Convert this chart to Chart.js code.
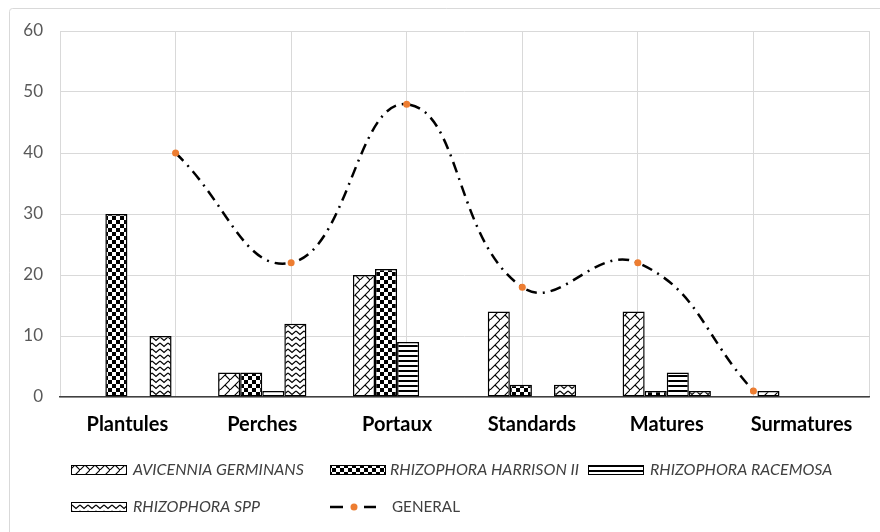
<!DOCTYPE html>
<html>
<head>
<meta charset="utf-8">
<script src="https://cdn.jsdelivr.net/npm/chart.js@4/dist/chart.umd.min.js"></script>
<style>
html,body{margin:0;padding:0;background:#fff;}
#wrap{width:880px;height:532px;position:relative;}
</style>
</head>
<body>
<div id="wrap"><canvas id="c" width="880" height="532"></canvas></div>
<script>
// ---- data ----
const categories = ['Plantules', 'Perches', 'Portaux', 'Standards', 'Matures', 'Surmatures'];
const avicenniaGerminans = [0, 4, 20, 14, 14, 1];
const rhizophoraHarrisonii = [30, 4, 21, 2, 1, 0];
const rhizophoraRacemosa = [0, 1, 9, 0, 4, 0];
const rhizophoraSpp = [10, 12, 0, 2, 1, 0];
const general = [40, 22, 48, 18, 22, 1];
const yTicks = [0, 10, 20, 30, 40, 50, 60];
const seriesNames = ['AVICENNIA GERMINANS', 'RHIZOPHORA HARRISON II', 'RHIZOPHORA RACEMOSA', 'RHIZOPHORA SPP', 'GENERAL'];

// ---- patterns ----
function makePattern(w, h, drawFn) {
  const cv = document.createElement('canvas');
  cv.width = w; cv.height = h;
  const g = cv.getContext('2d');
  g.fillStyle = '#fff'; g.fillRect(0, 0, w, h);
  drawFn(g, w, h);
  return g.createPattern(cv, 'repeat');
}
const patAvicennia = makePattern(10, 10, (g, w, h) => {
  g.strokeStyle = '#000'; g.lineWidth = 1.1;
  g.beginPath();
  g.moveTo(-2, h + 2); g.lineTo(w + 2, -2);
  g.moveTo(w / 2, h / 2); g.lineTo(w + 1, h + 1);
  g.stroke();
});
const patHarrison = makePattern(8, 8, (g) => {
  g.fillStyle = '#000';
  g.fillRect(0, 0, 4, 4);
  g.fillRect(4, 4, 4, 4);
});
const patRacemosa = makePattern(6, 5, (g) => {
  g.fillStyle = '#000';
  g.fillRect(0, 0, 6, 2);
});
const patSpp = makePattern(8, 6, (g) => {
  g.strokeStyle = '#000'; g.lineWidth = 1.2;
  g.beginPath();
  g.moveTo(0, 1); g.lineTo(4, 4.5); g.lineTo(8, 1);
  g.stroke();
});
const patterns = [patAvicennia, patHarrison, patRacemosa, patSpp];

// ---- plugins ----
const frame = {
  id: 'frame',
  beforeDraw(chart) {
    const ctx = chart.ctx;
    ctx.save();
    ctx.fillStyle = '#fff';
    ctx.fillRect(0, 0, chart.width, chart.height);
    ctx.strokeStyle = '#d9d9d9';
    ctx.lineWidth = 1;
    ctx.beginPath();
    ctx.roundRect(9.5, 8.5, 880, 540, 3);
    ctx.stroke();
    ctx.restore();
  }
};

const customLegend = {
  id: 'customLegend',
  afterDraw(chart) {
    const ctx = chart.ctx;
    ctx.save();
    const items = [
      {x: 71, y: 470, tx: 133, tw: 176, p: 0},
      {x: 330, y: 470, tx: 390, tw: 190, p: 1},
      {x: 588, y: 470, tx: 650, tw: 185, p: 2},
      {x: 71, y: 507, tx: 133, tw: 129, p: 3}
    ];
    items.forEach(it => {
      ctx.fillStyle = patterns[it.p];
      ctx.fillRect(it.x, it.y - 5, 56, 10);
      ctx.strokeStyle = '#000';
      ctx.lineWidth = 1;
      ctx.strokeRect(it.x + 0.5, it.y - 5 + 0.5, 55, 9);
      ctx.fillStyle = '#404040';
      ctx.font = 'italic 16px Lato';
      ctx.textBaseline = 'middle';
      ctx.textAlign = 'left';
      ctx.fillText(seriesNames[it.p], it.tx, it.y, it.tw);
    });
    const gy = 507;
    ctx.strokeStyle = '#000';
    ctx.lineWidth = 2.5;
    ctx.beginPath();
    ctx.moveTo(330, gy); ctx.lineTo(343, gy);
    ctx.moveTo(364, gy); ctx.lineTo(376, gy);
    ctx.stroke();
    ctx.fillStyle = '#ED7D31';
    ctx.beginPath();
    ctx.arc(354, gy, 3.5, 0, Math.PI * 2);
    ctx.fill();
    ctx.fillStyle = '#404040';
    ctx.font = '16px Lato';
    ctx.textBaseline = 'middle';
    ctx.fillText(seriesNames[4], 392, gy, 68);
    ctx.restore();
  }
};

const barSeries = [avicenniaGerminans, rhizophoraHarrisonii, rhizophoraRacemosa, rhizophoraSpp];
const datasets = barSeries.map((vals, i) => ({
  type: 'bar',
  indexAxis: 'x',
  label: seriesNames[i],
  data: vals,
  backgroundColor: patterns[i],
  borderColor: '#000',
  borderWidth: 1.5,
  borderSkipped: false,
  barPercentage: 1,
  categoryPercentage: 0.655,
  xAxisID: 'x',
  yAxisID: 'y',
  order: 1
}));
datasets.push({
  type: 'line',
  indexAxis: 'x',
  label: seriesNames[4],
  data: general.map((v, i) => ({x: i + 1, y: v})),
  xAxisID: 'x2',
  yAxisID: 'y',
  borderColor: '#000',
  borderWidth: 2.5,
  borderDash: [11, 6, 2, 6],
  borderCapStyle: 'butt',
  tension: 0.45,
  pointRadius: 3.5,
  pointBackgroundColor: '#ED7D31',
  pointBorderWidth: 0,
  pointHoverRadius: 3.5,
  fill: false,
  order: 0
});

new Chart(document.getElementById('c'), {
  data: { labels: categories, datasets },
  plugins: [frame, customLegend],
  options: {
    indexAxis: 'y',
    responsive: false,
    animation: false,
    events: [],
    layout: { padding: { top: 31, right: 11, bottom: 85, left: 0 } },
    plugins: { legend: { display: false }, tooltip: { enabled: false } },
    scales: {
      x: {
        type: 'category',
        axis: 'x',
        position: 'bottom',
        offset: true,
        grid: { display: false, drawTicks: false, offset: true },
        border: { display: true, color: '#404040', width: 1.5, dash: [6, 3, 2, 3] },
        ticks: { color: '#000', font: { family: 'Lato', size: 20, weight: 'bold' }, padding: 16, maxRotation: 0, autoSkip: false },
        afterFit(s) { s.height = 50; }
      },
      x2: {
        type: 'linear',
        axis: 'x',
        position: 'bottom',
        min: 0, max: 7,
        grid: { color: '#d9d9d9', lineWidth: 1, drawTicks: false },
        border: { display: false },
        ticks: { display: false, stepSize: 1 },
        afterFit(s) { s.height = 0; }
      },
      y: {
        type: 'linear',
        axis: 'y',
        position: 'left',
        min: 0, max: 60,
        afterBuildTicks(s) { s.ticks = yTicks.map(v => ({value: v})); },
        grid: { color: '#d9d9d9', lineWidth: 1, drawTicks: false },
        border: { display: false },
        ticks: { color: '#595959', font: { family: 'Lato', size: 17 }, padding: 17 },
        afterFit(s) { s.width = 60; }
      }
    }
  }
});
</script>
</body>
</html>
